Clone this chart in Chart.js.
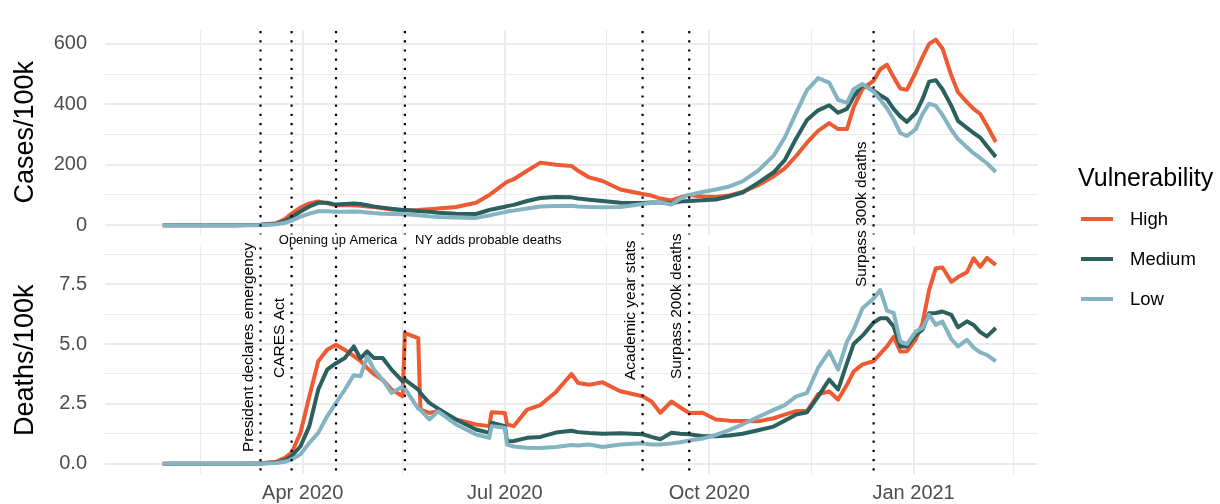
<!DOCTYPE html>
<html>
<head>
<meta charset="utf-8">
<title>Cases and deaths per 100k by vulnerability</title>
<script src="https://cdn.jsdelivr.net/npm/chart.js@4.4.1/dist/chart.umd.min.js"></script>
<style>
  html, body { margin: 0; padding: 0; background: #fff; }
  #wrap { position: relative; width: 1220px; height: 504px; overflow: hidden;
          font-family: 'Liberation Sans', Arial, sans-serif; }
  #wrap canvas { position: absolute; left: 0; top: 0; }
  .legend-title { position: absolute; left: 1078px; top: 162px; font-size: 25px;
                  line-height: 30px; color: #000; white-space: nowrap; }
  .legend-item { position: absolute; left: 1081px; height: 22px; line-height: 22px;
                 font-size: 18.5px; color: #000; white-space: nowrap; }
  .legend-item .key { position: absolute; left: 0; top: 9px; width: 32px; height: 4px; }
  .legend-item .txt { position: absolute; left: 49px; top: 0; }
</style>
</head>
<body>
<div id="wrap">
  <canvas id="casesChart" width="1220" height="504"></canvas>
  <canvas id="deathsChart" width="1220" height="504"></canvas>
  <div class="legend-title">Vulnerability</div>
  <div id="legend"></div>
</div>
<script>
'use strict';

// ---- data ----
const dates = [
  '2020-01-29','2020-02-15','2020-03-01','2020-03-13','2020-03-20','2020-03-24','2020-03-27','2020-03-31','2020-04-04','2020-04-08',
  '2020-04-12','2020-04-16','2020-04-20','2020-04-24','2020-04-27','2020-04-30','2020-05-03','2020-05-07','2020-05-11','2020-05-16',
  '2020-05-17','2020-05-23','2020-05-24','2020-05-28','2020-06-01','2020-06-09','2020-06-18','2020-06-24','2020-06-25','2020-07-01',
  '2020-07-02','2020-07-05','2020-07-11','2020-07-17','2020-07-24','2020-07-31','2020-08-03','2020-08-08','2020-08-14','2020-08-22',
  '2020-09-01','2020-09-05','2020-09-09','2020-09-14','2020-09-18','2020-09-22','2020-09-28','2020-10-04','2020-10-10','2020-10-16',
  '2020-10-23','2020-10-30','2020-11-04','2020-11-09','2020-11-14','2020-11-19','2020-11-24','2020-11-28','2020-12-02','2020-12-05',
  '2020-12-09','2020-12-14','2020-12-17','2020-12-20','2020-12-23','2020-12-26','2020-12-29','2021-01-02','2021-01-05','2021-01-08',
  '2021-01-11','2021-01-14','2021-01-18','2021-01-21','2021-01-25','2021-01-28','2021-01-31','2021-02-03','2021-02-07'
];

const casesHigh = [
  0,0,0,1,6,20,38,58,72,78, 72,66,67,66,64,62,60,56,52,49,
  49,50,51,53,55,60,74,100,105,138, 143,152,180,207,200,196,180,158,146,118,
  103,98,88,82,92,100,95,93,98,110, 132,162,188,228,273,312,338,318,318,390,
  452,478,516,531,490,452,448,507,556,600, 614,585,495,440,407,385,368,330,275
];
const casesMedium = [
  0,0,0,1,5,14,26,45,62,74, 74,68,70,72,70,66,62,58,54,50,
  50,47,46,44,41,38,37,50,52,61, 63,67,80,90,93,92,88,84,80,74,
  73,75,75,72,78,80,82,85,95,108, 140,175,215,285,348,380,397,372,385,425,
  465,445,430,417,385,360,342,372,417,475, 480,450,395,345,322,305,290,262,226
];
const casesLow = [
  0,0,0,0,3,8,15,28,38,46, 46,44,44,45,44,42,40,38,37,36,
  36,33,32,29,27,25,24,32,34,43, 45,48,55,62,63,64,62,60,59,60,
  70,74,76,68,88,100,110,118,128,145, 180,230,290,370,447,487,472,415,405,450,
  467,442,415,387,350,305,295,318,368,402, 395,365,315,285,258,238,222,205,176
];

const deathsHigh = [
  0,0,0,0.02,0.08,0.25,0.46,1.29,2.82,4.28, 4.76,4.97,4.75,4.5,4.3,4.0,3.75,3.51,3.1,2.82,
  5.46,5.25,2.26,2.12,2.19,1.85,1.64,1.57,2.15,2.12, 1.64,1.57,2.26,2.45,3.0,3.75,3.37,3.3,3.4,3.03,
  2.82,2.6,2.13,2.6,2.35,2.12,2.13,1.85,1.8,1.78, 1.77,1.9,2.05,2.2,2.2,2.9,3.02,2.68,3.3,3.85,
  4.15,4.28,4.6,4.9,5.3,4.69,4.7,5.2,5.87,7.26, 8.17,8.2,7.6,7.8,8.0,8.58,8.23,8.6,8.3
];
const deathsMedium = [
  0,0,0,0.01,0.05,0.15,0.32,0.73,1.57,3.1, 3.93,4.2,4.42,4.9,4.4,4.69,4.42,4.42,3.93,3.44,
  3.51,3.1,2.95,2.54,2.3,1.85,1.43,1.29,1.71,1.57, 0.94,0.95,1.08,1.12,1.3,1.38,1.32,1.28,1.25,1.27,
  1.23,1.12,1.02,1.29,1.25,1.23,1.15,1.15,1.18,1.25, 1.4,1.55,1.8,2.05,2.15,2.8,3.51,3.1,4.2,5.0,
  5.35,5.9,6.08,6.08,5.73,4.9,4.9,5.39,5.6,6.29, 6.3,6.36,6.22,5.7,5.95,5.8,5.5,5.32,5.67
];
const deathsLow = [
  0,0,0,0.01,0.03,0.08,0.18,0.39,0.87,1.29, 1.98,2.54,3.1,3.7,3.65,4.48,3.95,3.51,2.96,3.23,
  3.15,2.3,2.25,1.85,2.19,1.64,1.22,1.08,1.57,1.5, 0.8,0.72,0.67,0.66,0.7,0.78,0.76,0.8,0.7,0.8,
  0.85,0.8,0.8,0.85,0.9,0.97,1.05,1.2,1.4,1.64, 1.95,2.25,2.45,2.8,2.96,4.0,4.69,3.93,5.1,5.6,
  6.5,6.9,7.26,6.4,6.3,5.11,5.0,5.53,5.67,6.22, 5.8,5.94,5.2,4.9,5.18,4.85,4.65,4.55,4.28
];

const seriesNames = ['High', 'Medium', 'Low'];
const seriesColors = ['#EE5A32', '#2C605E', '#84B3C1'];

const caseTicks = [0, 100, 200, 300, 400, 500, 600];
const caseTickLabels = ['0', '', '200', '', '400', '', '600'];
const deathTicks = [0, 1.25, 2.5, 3.75, 5, 6.25, 7.5, 8.75];
const deathTickLabels = ['0.0', '', '2.5', '', '5.0', '', '7.5', ''];
const xTickDates = ['2020-02-15','2020-04-01','2020-05-16','2020-07-01','2020-08-16','2020-10-01','2020-11-16','2021-01-01','2021-02-15'];
const xTickLabels = ['', 'Apr 2020', '', 'Jul 2020', '', 'Oct 2020', '', 'Jan 2021', ''];
const xFrom = '2020-01-03', xTo = '2021-02-26';

const eventDates = ['2020-03-13','2020-03-27','2020-04-16','2020-05-17','2020-09-01','2020-09-22','2020-12-14'];
const eventLabels = ['President declares emergency', 'CARES Act', 'Opening up America', 'NY adds probable deaths',
                     'Academic year stats', 'Surpass 200k deaths', 'Surpass 300k deaths'];

// ---- helpers ----
function dayIndex(s){
    const [y, m, d] = s.split('-').map(Number);
    return Math.round((Date.UTC(y, m - 1, d) - Date.UTC(2020, 0, 1)) / 86400000);
}

const FONT = "'Liberation Sans', Arial, sans-serif";
Chart.defaults.font.family = FONT;

const xDays = dates.map(dayIndex);
const xTickDays = xTickDates.map(dayIndex);
const GRID = '#ebebeb';

// where each annotation goes (x offset from its line, and how it is set)
const labelLayout = [
    {vertical: true, bottom: 452},
    {vertical: true, bottom: 378},
    {vertical: false, align: 'center', dx: 2, y: 240},
    {vertical: false, align: 'left', dx: 10, y: 240},
    {vertical: true, bottom: 380},
    {vertical: true, bottom: 379},
    {vertical: true, bottom: 287}
];

const eventPlugin = {
    id: 'events',
    afterDatasetsDraw(chart){
        const {ctx, chartArea, scales: {x}} = chart;
        ctx.save();
        ctx.strokeStyle = '#000';
        ctx.lineWidth = 2.2;
        ctx.setLineDash([2.2, 7]);
        eventDates.forEach(d => {
            const px = x.getPixelForValue(dayIndex(d));
            ctx.beginPath();
            ctx.moveTo(px, chartArea.top + 1);
            ctx.lineTo(px, chartArea.bottom);
            ctx.stroke();
        });
        ctx.restore();
    },
    afterDraw(chart, args, opts){
        if(!opts.labels) return;
        const {ctx, scales: {x}} = chart;
        ctx.save();
        ctx.fillStyle = '#000';
        eventLabels.forEach((text, i) => {
            const lay = labelLayout[i];
            const px = x.getPixelForValue(dayIndex(eventDates[i]));
            if(lay.vertical){
                ctx.font = '15.5px ' + FONT;
                ctx.save();
                ctx.translate(px - 8, lay.bottom);
                ctx.rotate(-Math.PI / 2);
                ctx.textAlign = 'left';
                ctx.textBaseline = 'alphabetic';
                ctx.fillText(text, 0, 0);
                ctx.restore();
            }else{
                ctx.font = '13px ' + FONT;
                ctx.textAlign = lay.align;
                ctx.textBaseline = 'middle';
                ctx.fillText(text, px + lay.dx, lay.y);
            }
        });
        ctx.restore();
    }
};

function makeDatasets(values){
    return values.map((vals, i) => ({
        label: seriesNames[i],
        data: vals.map((v, j) => ({x: xDays[j], y: v})),
        borderColor: seriesColors[i],
        borderWidth: 4,
        pointRadius: 0,
        tension: 0,
        borderJoinStyle: 'round',
        order: 2 - i
    }));
}

function xScale(showLabels, height){
    return {
        type: 'linear',
        min: dayIndex(xFrom),
        max: dayIndex(xTo),
        afterBuildTicks: (scale) => { scale.ticks = xTickDays.map(v => ({value: v})); },
        afterFit: (scale) => { scale.height = height; },
        border: {display: false},
        grid: {
            color: GRID,
            drawTicks: false,
            lineWidth: (c) => (c.tick && xTickLabels[xTickDays.indexOf(c.tick.value)] !== '') ? 2 : 1.1
        },
        ticks: {
            display: showLabels,
            autoSkip: false,
            maxRotation: 0,
            padding: 7,
            color: '#4d4d4d',
            font: {size: 20},
            callback: (v, i) => xTickLabels[i]
        }
    };
}

function yScale(title, min, max, ticks, labels){
    return {
        min: min,
        max: max,
        afterBuildTicks: (scale) => { scale.ticks = ticks.map(v => ({value: v})); },
        afterFit: (scale) => { scale.width = 105; },
        border: {display: false},
        grid: {
            color: GRID,
            drawTicks: false,
            lineWidth: (c) => (c.tick && labels[ticks.indexOf(c.tick.value)] !== '') ? 2 : 1.1
        },
        ticks: {
            padding: 18,
            color: '#4d4d4d',
            font: {size: 20},
            callback: (v, i) => labels[i]
        },
        title: {
            display: true,
            text: title,
            color: '#000',
            font: {size: 27},
            padding: {top: 9, bottom: 0}
        }
    };
}

const commonOptions = {
    responsive: false,
    animation: false,
    events: [],
    plugins: {legend: {display: false}, tooltip: {enabled: false}}
};

new Chart(document.getElementById('casesChart').getContext('2d'), {
    type: 'line',
    data: {datasets: makeDatasets([casesHigh, casesMedium, casesLow])},
    options: {
        ...commonOptions,
        layout: {padding: {left: 0, right: 182, top: 6.5, bottom: 269.5}},
        plugins: {...commonOptions.plugins, events: {labels: false}},
        scales: {
            x: xScale(false, 0),
            y: yScale('Cases/100k', -31, 646, caseTicks, caseTickLabels)
        }
    },
    plugins: [eventPlugin]
});

new Chart(document.getElementById('deathsChart').getContext('2d'), {
    type: 'line',
    data: {datasets: makeDatasets([deathsHigh, deathsMedium, deathsLow])},
    options: {
        ...commonOptions,
        layout: {padding: {left: 0, right: 182, top: 246.4, bottom: 0}},
        plugins: {...commonOptions.plugins, events: {labels: true}},
        scales: {
            x: xScale(true, 29.4),
            y: yScale('Deaths/100k', -0.43, 9.08, deathTicks, deathTickLabels)
        }
    },
    plugins: [eventPlugin]
});

// ---- legend ----
const legend = document.getElementById('legend');
const legendY = [219, 258.5, 298.5];
seriesNames.forEach((name, i) => {
    const item = document.createElement('div');
    item.className = 'legend-item';
    item.style.top = (legendY[i] - 11) + 'px';
    const key = document.createElement('span');
    key.className = 'key';
    key.style.background = seriesColors[i];
    const txt = document.createElement('span');
    txt.className = 'txt';
    txt.textContent = name;
    item.append(key, txt);
    legend.append(item);
});
</script>
</body>
</html>
